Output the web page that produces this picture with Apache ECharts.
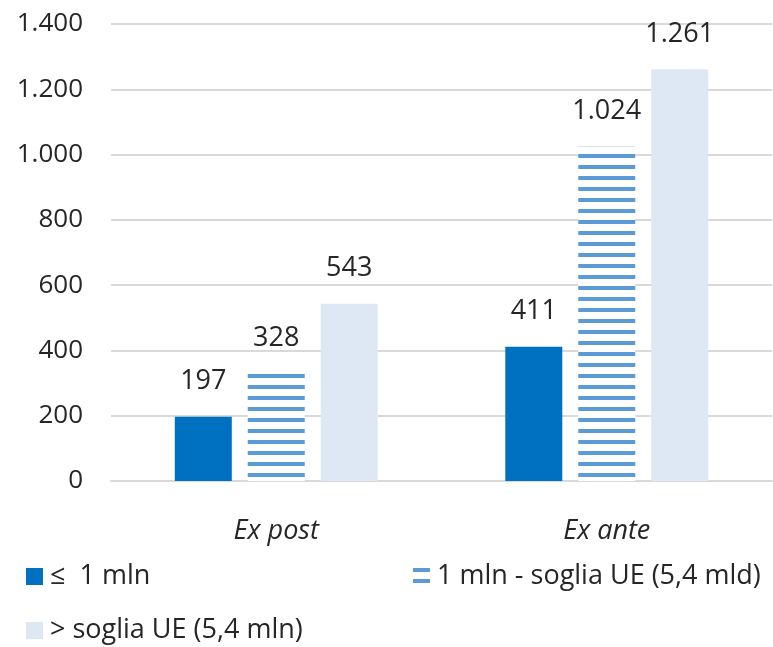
<!DOCTYPE html>
<html>
<head>
<meta charset="utf-8">
<script src="https://cdn.jsdelivr.net/npm/echarts@6/dist/echarts.min.js"></script>
<style>
  html, body { margin: 0; padding: 0; background: #fff; }
  #chart { width: 773px; height: 647px; }
</style>
</head>
<body>
<div id="chart"></div>
<script>
// dati
const categories = ['Ex post', 'Ex ante'];
const seriesNames = ['≤  1 mln', '1 mln - soglia UE (5,4 mld)', '> soglia UE (5,4 mln)'];
const fino1mln = [197, 411];
const sogliaUE = [328, 1024];
const oltreSoglia = [543, 1261];
const yTicks = [0, 200, 400, 600, 800, 1000, 1200, 1400];

const FONT = 'Open Sans';
const TXT = '#262626';

// pattern a righe orizzontali per la serie centrale
const makeStripes = () => {
    let c = document.createElement('canvas');
    c.width = 8;
    c.height = 11;
    let ctx = c.getContext('2d');
    ctx.fillStyle = '#ffffff';
    ctx.fillRect(0, 0, 8, 11);
    ctx.fillStyle = '#5b9bd5';
    ctx.fillRect(0, 0, 8, 4);
    return { image: c, repeat: 'repeat' };
};

// separatore delle migliaia all'italiana
const fmtIt = (v) => {
    let s = String(Math.round(v));
    return s.replace(/\B(?=(\d{3})+(?!\d))/g, '.');
};

const label = {
    show: true,
    position: 'top',
    distance: 22,
    color: TXT,
    fontFamily: FONT,
    fontSize: 27,
    formatter: (p) => fmtIt(p.value)
};

const legendBase = {
    padding: 0,
    itemWidth: 17,
    itemHeight: 17,
    itemGap: 7,
    icon: 'rect',
    textStyle: { color: TXT, fontFamily: FONT, fontSize: 27, padding: [0, 0, 0, 2] }
};

const dom = echarts.init(document.getElementById('chart'), null, { renderer: 'canvas' });

dom.setOption({
    animation: false,
    backgroundColor: '#ffffff',
    grid: { left: 111, right: 1, top: 24, bottom: 166, containLabel: false },
    legend: [
        Object.assign({ data: [seriesNames[0]], left: 26, top: 563 }, legendBase),
        Object.assign({ data: [seriesNames[1]], left: 413, top: 563 }, legendBase),
        Object.assign({ data: [seriesNames[2]], left: 26, top: 617 }, legendBase)
    ],
    xAxis: {
        type: 'category',
        data: categories,
        axisTick: { show: false },
        axisLine: { lineStyle: { color: '#d9d9d9', width: 2 } },
        axisLabel: {
            color: TXT,
            fontFamily: FONT,
            fontSize: 27,
            fontStyle: 'italic',
            margin: 37
        }
    },
    yAxis: {
        type: 'value',
        min: yTicks[0],
        max: yTicks[yTicks.length - 1],
        interval: 200,
        axisLine: { show: false },
        axisTick: { show: false },
        splitLine: { lineStyle: { color: '#d9d9d9', width: 2 } },
        axisLabel: {
            color: TXT,
            fontFamily: FONT,
            fontSize: 26,
            margin: 28,
            formatter: (v) => fmtIt(v)
        }
    },
    series: [
        {
            name: seriesNames[0],
            type: 'bar',
            data: fino1mln,
            barWidth: 57,
            barGap: '28%',
            itemStyle: { color: '#0070c0' },
            label: label
        },
        {
            name: seriesNames[1],
            type: 'bar',
            data: sogliaUE,
            barWidth: 57,
            barGap: '28%',
            itemStyle: { color: makeStripes() },
            label: label
        },
        {
            name: seriesNames[2],
            type: 'bar',
            data: oltreSoglia,
            barWidth: 57,
            barGap: '28%',
            itemStyle: { color: '#dee8f4' },
            label: label
        }
    ]
});
</script>
</body>
</html>
